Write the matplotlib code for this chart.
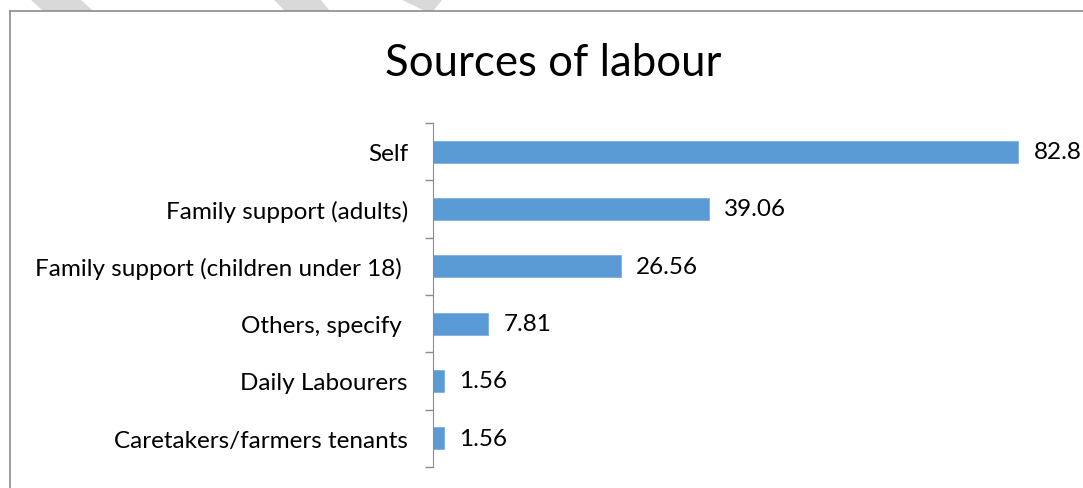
import matplotlib.pyplot as plt
from matplotlib.patches import Polygon
from matplotlib.lines import Line2D
import numpy as np

plt.rcParams['font.family'] = ['Lato', 'DejaVu Sans']

categories = ["Self", "Family support (adults)", "Family support (children under 18) ",
              "Others, specify ", "Daily Labourers", "Caretakers/farmers tenants"]
values = [82.81, 39.06, 26.56, 7.81, 1.56, 1.56]

W, H = 1083, 489
fig = plt.figure(figsize=(W / 100, H / 100), dpi=100)

# faint diagonal bands along the top edge
for pts in [[(30, 0), (80, 0), (93, 12), (43, 12)],
            [(273, 0), (320, 0), (330, 12), (285, 12)],
            [(400, 0), (443, 0), (433, 12), (425, 12)]]:
    fig.patches.append(Polygon([(x / W, 1 - y / H) for x, y in pts], closed=True,
                               transform=fig.transFigure, color='#d9d9d9', lw=0))

# chart frame
fig.lines.append(Line2D([10 / W, 10 / W], [0, 1 - 12 / H], transform=fig.transFigure,
                        color='#8c8c8c', lw=1.2))
fig.lines.append(Line2D([10 / W, 1], [1 - 12 / H, 1 - 12 / H], transform=fig.transFigure,
                        color='#8c8c8c', lw=1.2))

ax = fig.add_axes([433 / W, 1 - 468 / H, (1069 - 433) / W, (468 - 124) / H])
y = np.arange(len(categories))
ax.barh(y, values, height=0.38, color='#5b9bd5', edgecolor='#7fb0e0', lw=0.6)
ax.set_xlim(0, 90)
ax.set_ylim(len(categories) - 0.5, -0.5)

for yi, v in zip(y, values):
    ax.annotate(f"{v:.2f}", (v, yi), xytext=(11, 0), textcoords='offset points',
                va='center', ha='left', fontsize=17.5, color='black')

for s in ['top', 'right', 'bottom']:
    ax.spines[s].set_visible(False)
ax.spines['left'].set_color('#8c8c8c')
ax.set_xticks([])
ax.set_yticks(y)
ax.set_yticklabels(categories, fontsize=17.5)
ax.tick_params(axis='y', which='major', length=0, pad=18)
ax.set_yticks(np.arange(-0.5, len(categories)), minor=True)
ax.tick_params(axis='y', which='minor', length=6, color='#8c8c8c', width=1)

fig.text(553 / W, 1 - 63 / H, "Sources of labour", ha='center', va='center',
         fontsize=31.5, color='black')

fig.savefig('out.png', dpi=100)
